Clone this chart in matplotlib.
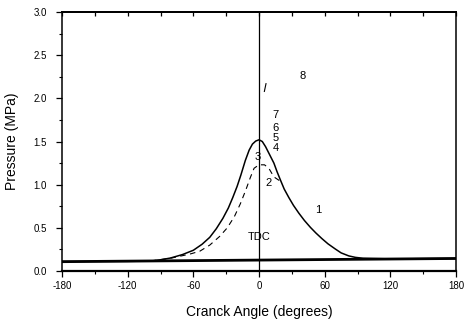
#!/usr/bin/env python3
import matplotlib

matplotlib.use("Agg")

import matplotlib.pyplot as plt
from matplotlib.ticker import MultipleLocator

# crank angle (deg) and pressure (MPa)
angle1 = [-180, -120, -99, -90, -81, -70, -60, -52, -45, -39, -33, -28, -24, -20,
          -16.6, -12.5, -9, -6, -3, 0, 3, 6, 10, 13.6, 16.5, 19.7, 23, 27.3, 31.5,
          36.4, 41.5, 47, 52, 57.5, 63, 69.7, 75, 82, 88, 95, 120, 180]
press1 = [0.11, 0.112, 0.115, 0.13, 0.15, 0.19, 0.24, 0.31, 0.39, 0.49, 0.61, 0.73, 0.85, 0.98,
          1.11, 1.28, 1.40, 1.47, 1.505, 1.52, 1.5, 1.44, 1.34, 1.25, 1.15, 1.05, 0.95, 0.85, 0.76,
          0.67, 0.585, 0.505, 0.44, 0.375, 0.315, 0.255, 0.21, 0.175, 0.158, 0.148, 0.14, 0.145]

angle2 = [-99, -80, -69, -62, -54, -45, -36, -29, -22.5, -17, -12, -8, -4.5, 0, 5, 9, 13.6, 19.5]
press2 = [0.115, 0.15, 0.18, 0.2, 0.23, 0.3, 0.40, 0.5, 0.63, 0.78, 0.94, 1.08, 1.19, 1.23, 1.23,
          1.19, 1.09, 1.04]

# only a short piece of curve 8 survives in the scan
angle8 = [4.9, 6.4]
press8 = [2.08, 2.17]

baseline_x = [-180, 180]
baseline_y = [0.108, 0.145]

labels = ["1", "2", "3", "4", "5", "6", "7", "8", "TDC"]
label_x = [54, 9, -1.5, 15.5, 15.5, 15.5, 15.5, 40, 0]
label_y = [0.71, 1.02, 1.32, 1.42, 1.54, 1.66, 1.81, 2.26, 0.39]

plt.rcParams["font.family"] = ["Liberation Sans", "DejaVu Sans"]

fig = plt.figure(figsize=(4.66, 3.21), dpi=100)
ax = fig.add_axes([62 / 466, 50 / 321, 394 / 466, 259 / 321])

ax.plot(baseline_x, baseline_y, color="black", lw=2.0)
ax.plot(angle1, press1, color="black", lw=1.1)
ax.plot(angle2, press2, color="black", lw=0.8, dashes=(5, 4))
ax.plot(angle8, press8, color="black", lw=0.8)
ax.axvline(0, color="black", lw=0.9)

for t, x, y in zip(labels, label_x, label_y):
    ax.text(x, y, t, fontsize=8, ha="center", va="center")

ax.set_xlim(-180, 180)
ax.set_ylim(0, 3.0)
ax.set_xticks([-180, -120, -60, 0, 60, 120, 180])
ax.set_xticklabels(["-180", "-120", "-60", "0", "60", "120", "180"])
ax.xaxis.set_minor_locator(MultipleLocator(30))
ax.set_yticks([0, 0.5, 1.0, 1.5, 2.0, 2.5, 3.0])
ax.set_yticklabels(["0.0", "0.5", "1.0", "1.5", "2.0", "2.5", "3.0"])
ax.yaxis.set_minor_locator(MultipleLocator(0.25))
ax.tick_params(axis="both", which="major", direction="out", length=4, width=0.9, labelsize=7)
ax.tick_params(axis="both", which="minor", direction="out", length=2.5, width=0.8)
ax.tick_params(axis="y", which="major", pad=7)

# top axis: inward ticks every 30 degrees, no labels
top = ax.secondary_xaxis("top")
top.xaxis.set_major_locator(MultipleLocator(30))
top.tick_params(direction="in", length=3, width=0.9, labeltop=False)

for s in ax.spines.values():
    s.set_linewidth(1.1)
ax.spines["bottom"].set_linewidth(1.6)
top.spines["top"].set_linewidth(1.4)

ax.set_xlabel("Cranck Angle (degrees)", fontsize=10, labelpad=10)
ax.set_ylabel("Pressure (MPa)", fontsize=10, labelpad=10)

fig.savefig("out.png", dpi=100)
